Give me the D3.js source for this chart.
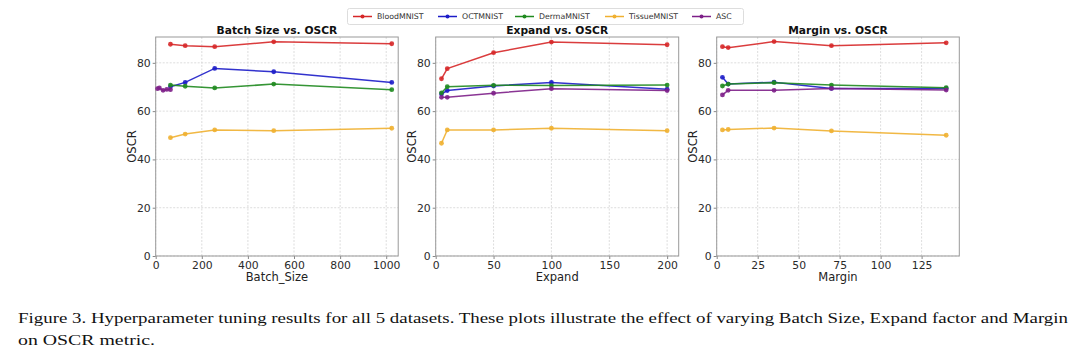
<!DOCTYPE html>
<html><head><meta charset="utf-8">
<script src="https://cdn.jsdelivr.net/npm/d3@7"></script>
<style>body{margin:0;background:#fff}svg{display:block}</style>
</head><body>
<svg id="c" width="1080" height="360"></svg>
<script>
const datasets = ["BloodMNIST","OCTMNIST","DermaMNIST","TissueMNIST","ASC"];
const colors = ["#d62728","#1c1cc8","#1f8a1f","#f0b030","#7d1f88"];

const panelTitles = ["Batch Size vs. OSCR","Expand vs. OSCR","Margin vs. OSCR"];
const panelXLabels = ["Batch_Size","Expand","Margin"];

const batchX = [64,128,256,512,1024];
const batchAscX = [8,16,32,48,64];
const batchBlood = [87.7,87.1,86.7,88.7,87.9];
const batchOCT = [70.1,71.9,77.7,76.3,71.9];
const batchDerma = [70.8,70.3,69.6,71.2,68.9];
const batchTissue = [49.0,50.5,52.2,51.9,52.9];
const batchASC = [69.3,69.6,68.6,69.0,68.9];

const expandX = [5,10,50,100,200];
const expandBlood = [73.4,77.6,84.2,88.6,87.5];
const expandOCT = [67.1,68.5,70.4,71.9,69.1];
const expandDerma = [67.6,70.1,70.7,70.6,70.8];
const expandTissue = [46.7,52.2,52.2,52.9,51.9];
const expandASC = [65.7,65.7,67.4,69.3,68.5];

const marginX = [3.5,7,35,70,140];
const marginBlood = [86.7,86.3,88.8,87.1,88.3];
const marginOCT = [74.0,71.2,72.0,69.4,69.4];
const marginDerma = [70.4,71.2,71.8,70.8,69.7];
const marginTissue = [52.2,52.4,53.0,51.8,50.0];
const marginASC = [66.7,68.6,68.6,69.4,68.7];

const xTicks = [[0,200,400,600,800,1000],[0,50,100,150,200],[0,25,50,75,100,125]];
const yTicks = [0,20,40,60,80];
const xMax = [1052,210,148];
const yMax = 90.7;

const caption1 = "Figure 3. Hyperparameter tuning results for all 5 datasets. These plots illustrate the effect of varying Batch Size, Expand factor and Margin";
const caption2 = "on OSCR metric.";

const panels = [
  {xs:[batchX,batchX,batchX,batchX,batchAscX], ys:[batchBlood,batchOCT,batchDerma,batchTissue,batchASC]},
  {xs:[expandX,expandX,expandX,expandX,expandX], ys:[expandBlood,expandOCT,expandDerma,expandTissue,expandASC]},
  {xs:[marginX,marginX,marginX,marginX,marginX], ys:[marginBlood,marginOCT,marginDerma,marginTissue,marginASC]}
];

const svg = d3.select("#c");
const lefts = [155.7, 435.7, 716.7];
const pw = [242.5, 243, 242.6];
const plotTop = 37, plotBottom = 256;
const font = "DejaVu Sans, sans-serif";

panels.forEach((p, i) => {
  const x = d3.scaleLinear().domain([0, xMax[i]]).range([lefts[i], lefts[i] + pw[i]]);
  const y = d3.scaleLinear().domain([0, yMax]).range([plotBottom, plotTop]);
  const g = svg.append("g");
  g.selectAll(".gx").data(xTicks[i]).join("line")
    .attr("x1", d => x(d)).attr("x2", d => x(d)).attr("y1", plotTop).attr("y2", plotBottom)
    .attr("stroke", "#d4d4d4").attr("stroke-width", 0.8).attr("stroke-dasharray", "2,1.5");
  g.selectAll(".gy").data(yTicks).join("line")
    .attr("x1", lefts[i]).attr("x2", lefts[i] + pw[i]).attr("y1", d => y(d)).attr("y2", d => y(d))
    .attr("stroke", "#d4d4d4").attr("stroke-width", 0.8).attr("stroke-dasharray", "2,1.5");
  const xa = g.append("g").attr("transform", `translate(0,${plotBottom})`)
    .call(d3.axisBottom(x).tickValues(xTicks[i]).tickSize(3).tickPadding(2).tickFormat(d3.format("d")));
  const ya = g.append("g").attr("transform", `translate(${lefts[i]},0)`)
    .call(d3.axisLeft(y).tickValues(yTicks).tickSize(3).tickPadding(2).tickFormat(d3.format("d")));
  [xa, ya].forEach(a => {
    a.select(".domain").remove();
    a.selectAll("line").attr("stroke", "#888");
    a.selectAll("text").attr("font-family", font).attr("font-size", 10.8).attr("fill", "#2a2a2a");
  });
  g.append("rect").attr("x", lefts[i]).attr("y", plotTop).attr("width", pw[i]).attr("height", plotBottom - plotTop)
    .attr("fill", "none").attr("stroke", "#999").attr("stroke-width", 1);
  p.ys.forEach((vals, s) => {
    const xs = p.xs[s];
    const pts = vals.map((v, k) => [xs[k], v]);
    g.append("path").datum(pts)
      .attr("d", d3.line().x(d => x(d[0])).y(d => y(d[1])))
      .attr("fill", "none").attr("stroke", colors[s]).attr("stroke-width", 1.5).attr("opacity", 0.9);
    g.selectAll(null).data(pts).join("circle")
      .attr("cx", d => x(d[0])).attr("cy", d => y(d[1])).attr("r", 2.4)
      .attr("fill", colors[s]).attr("opacity", 0.9);
  });
  g.append("text").attr("x", lefts[i] + pw[i] / 2).attr("y", 33.5).attr("text-anchor", "middle")
    .attr("font-family", font).attr("font-weight", "bold").attr("font-size", 10.7).attr("fill", "#111")
    .text(panelTitles[i]);
  g.append("text").attr("x", lefts[i] + pw[i] / 2).attr("y", 281).attr("text-anchor", "middle")
    .attr("font-family", font).attr("font-size", 11.5).attr("fill", "#222").text(panelXLabels[i]);
  g.append("text").attr("transform", `translate(${lefts[i] - 20},${(plotTop + plotBottom) / 2}) rotate(-90)`)
    .attr("text-anchor", "middle").attr("font-family", font).attr("font-size", 11.5).attr("fill", "#222").text("OSCR");
});

const leg = svg.append("g");
leg.append("rect").attr("x", 347.5).attr("y", 8.5).attr("width", 396).attr("height", 16)
  .attr("fill", "#fff").attr("stroke", "#ddd").attr("rx", 2);
const legX = [353, 438, 515, 605, 692];
datasets.forEach((name, s) => {
  const lx = legX[s];
  leg.append("line").attr("x1", lx).attr("x2", lx + 19).attr("y1", 16.5).attr("y2", 16.5)
    .attr("stroke", colors[s]).attr("stroke-width", 1.5);
  leg.append("circle").attr("cx", lx + 9.5).attr("cy", 16.5).attr("r", 2).attr("fill", colors[s]);
  leg.append("text").attr("x", lx + 24).attr("y", 19.4).attr("font-family", font).attr("font-size", 7.8)
    .attr("fill", "#333").text(name);
});

svg.append("text").attr("x", 18).attr("y", 323).attr("font-family", "Liberation Serif, Times New Roman, serif")
  .attr("font-size", 15.5).attr("fill", "#111").attr("textLength", 1050).attr("lengthAdjust", "spacingAndGlyphs").text(caption1);
svg.append("text").attr("x", 18).attr("y", 345).attr("font-family", "Liberation Serif, Times New Roman, serif")
  .attr("font-size", 15.5).attr("fill", "#111").attr("textLength", 137).attr("lengthAdjust", "spacingAndGlyphs").text(caption2);
</script>
</body></html>
